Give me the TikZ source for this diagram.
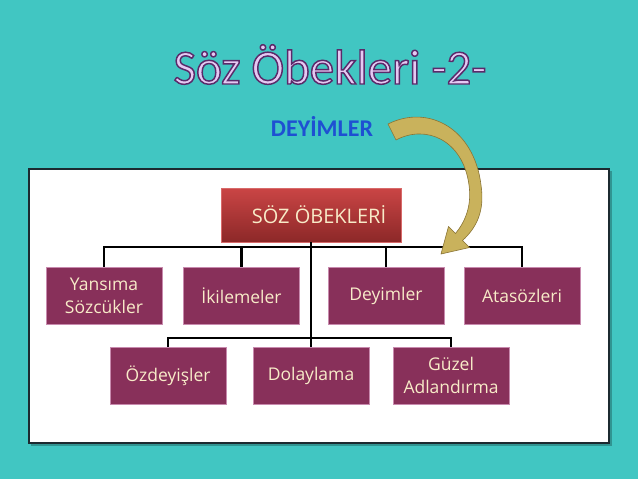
\documentclass[tikz,border=0pt]{standalone}
\usepackage{fontspec}
\setmainfont{Open Sans}
\newfontfamily\titlefont{Carlito}
\newfontfamily\titleoutline[FakeBold=3]{Carlito}
\usepackage{xcolor}
\usetikzlibrary{positioning,shapes,calc}
\definecolor{bgteal}{HTML}{41C6C2}
\definecolor{panelline}{HTML}{1C2A30}
\definecolor{leaffill}{HTML}{88305A}
\definecolor{leafedge}{HTML}{C88AAE}
\definecolor{leaftext}{HTML}{F8EBC8}
\definecolor{roottop}{HTML}{CA4545}
\definecolor{rootbot}{HTML}{8C2828}
\definecolor{rootedge}{HTML}{D86A6A}
\definecolor{titlefill}{HTML}{E6C9F3}
\definecolor{titleedge}{HTML}{5A2A6A}
\definecolor{subblue}{HTML}{1E50D2}
\definecolor{arrowfill}{HTML}{C9B25C}
\definecolor{arrowedge}{HTML}{8A7434}
\tikzset{
    leaf/.style = {draw = leafedge, fill = leaffill, text = leaftext, line width = .6pt,
        minimum width = 116pt, minimum height = 57pt, inner sep = 0pt, align = center,
        font = \fontsize{17.5}{23}\selectfont},
    link/.style = {line width = 2.6pt, black},
}

\begin{document}
\begin{tikzpicture}[x = 1pt, y = -1pt]
    \useasboundingbox (0,0) rectangle (638,479);
    \fill[bgteal] (0,0) rectangle (638,479);
    % white panel with a slight shadow
    \fill[black, opacity = .25] (31,171) rectangle (611.5,445.5);
    \draw[panelline, line width = 1.5pt, fill = white] (29,169) rectangle (609,443);
    %%%%%%%%%%
    \node[anchor = base, inner sep = 0pt, text = titlefill, font = \titleoutline\fontsize{49}{52}\selectfont] (title) at (330,84)
        {\special{pdf:literal direct 0.353 0.165 0.416 RG}Söz Öbekleri -2-};
    \node[anchor = base, inner sep = 0pt, text = subblue, font = \titlefont\bfseries\fontsize{24}{26}\selectfont] (subtitle) at (322,136) {DEYİMLER};
    %%%%%%%%%%
    \node[draw = rootedge, top color = roottop, bottom color = rootbot, text = leaftext,
        minimum width = 180pt, minimum height = 54pt, inner sep = 0pt,
        font = \fontsize{20}{24}\selectfont] (root) at (311,215) {\hspace*{16pt}SÖZ ÖBEKLERİ};
    %%%%%%%%%%
    \node[leaf] (yan) at (104,295.5) {Yansıma\\Sözcükler};
    \node[leaf] (iki) at (241.5,295.5) {İkilemeler};
    \node[leaf] (dey) at (386,295.5) {Deyimler};
    \node[leaf] (atas) at (522,295.5) {Atasözleri};
    %%%%%%%%%%
    \node[leaf] (ozd) at (168,375.5) {Özdeyişler};
    \node[leaf] (dol) at (311,375.5) {Dolaylama};
    \node[leaf] (guz) at (451,375.5) {Güzel\\Adlandırma};
    %%%%%%%%%%
    \coordinate (busA) at (0,247);
    \coordinate (busB) at (0,338);
    \draw[link] (root.south) -- (dol.north);
    \draw[link] (yan.north) |- (atas.north |- busA) -- (atas.north);
    \draw[link] (iki.north) -- (iki.north |- busA);
    \draw[link] (dey.north) -- (dey.north |- busA);
    \draw[link] (ozd.north) |- (guz.north |- busB) -- (guz.north);
    % curved block arrow from the subtitle down to the tree
    \filldraw[fill = arrowfill, draw = arrowedge, line width = .6pt, line join = round]
        (388,124) .. controls (428,104) and (474,128) .. (481,185)
        .. controls (485,212) and (476,228) .. (462.5,240.5)
        -- (469.5,247.5) -- (441,254) -- (448.5,226.5) -- (455.5,233.5)
        .. controls (465,222) and (472,206) .. (469,185)
        .. controls (463,140) and (426,124) .. (396,140) -- cycle;
\end{tikzpicture}
\end{document}
